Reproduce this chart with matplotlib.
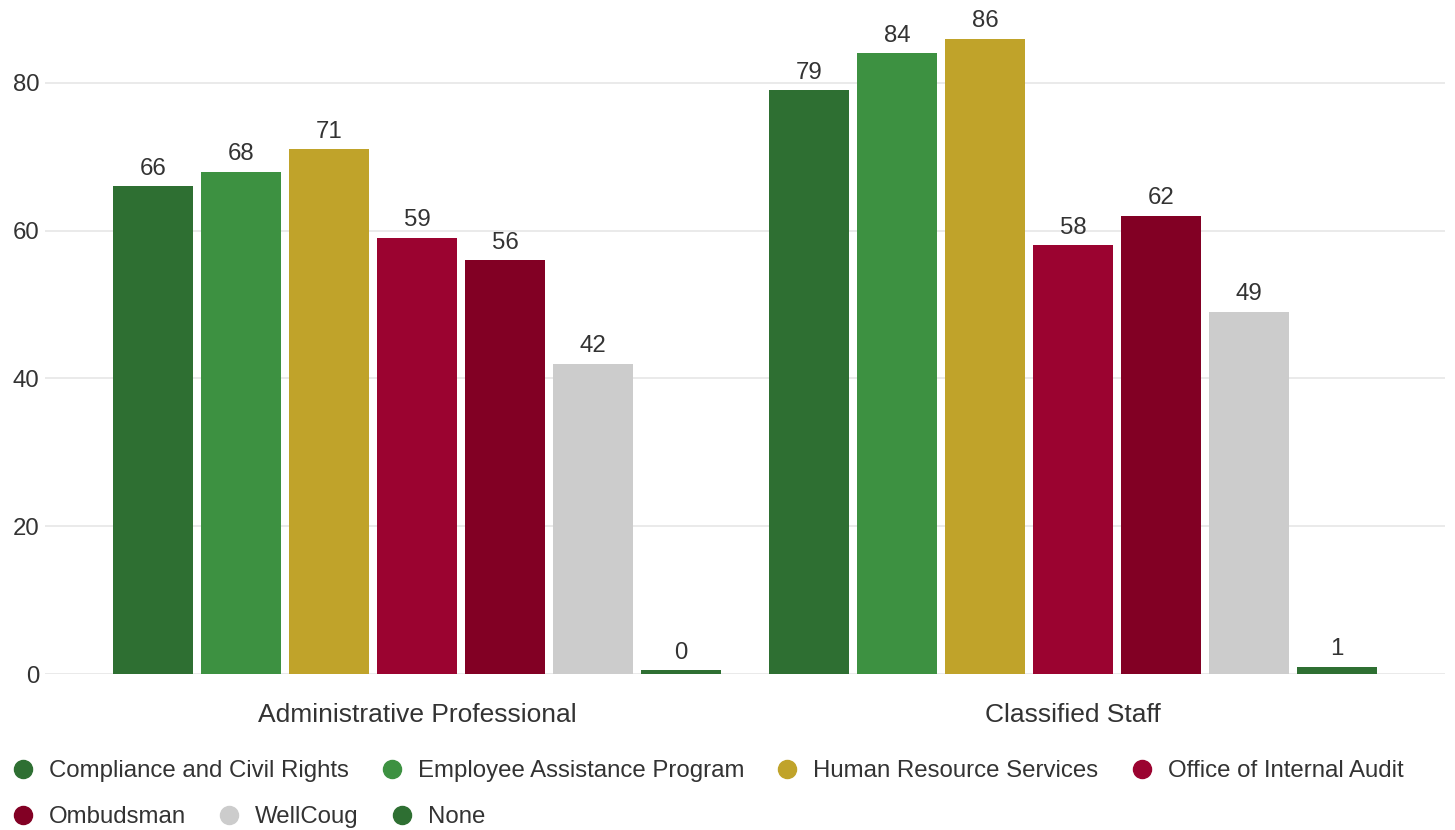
import matplotlib.pyplot as plt
from matplotlib.lines import Line2D
import numpy as np

plt.rcParams['font.family'] = ['Liberation Sans', 'DejaVu Sans']

groups = ["Administrative Professional", "Classified Staff"]
series = ["Compliance and Civil Rights", "Employee Assistance Program",
          "Human Resource Services", "Office of Internal Audit",
          "Ombudsman", "WellCoug", "None"]
values = [
    [66, 79],
    [68, 84],
    [71, 86],
    [59, 58],
    [56, 62],
    [42, 49],
    [0, 1],
]
colors = ["#2e6f32", "#3d9141", "#c0a32a", "#9b0330", "#820024", "#cccccc", "#2e6f32"]

FS = 17.3

fig = plt.figure(figsize=(14.55, 8.3), dpi=100)
ax = fig.add_axes([45 / 1455, 156 / 830, 1400 / 1455, 665 / 830])

x = np.arange(len(groups))
pitch = 88 / 656
width = 80 / 656
for i, (name, vals) in enumerate(zip(series, values)):
    pos = x + (i - 3) * pitch
    heights = [max(v, 0.5) for v in vals]  # keep zero bars visible
    ax.bar(pos, heights, width=width, color=colors[i], zorder=3)
    for p, v, h in zip(pos, vals, heights):
        ax.text(p, h + 0.9, str(v), ha="center", va="bottom", fontsize=FS, color="#333333")

ax.set_xlim(-372 / 656, 1 + 372 / 656)
ax.set_ylim(0, 90)
ax.set_yticks([0, 20, 40, 60, 80])
ax.set_xticks(x)
ax.set_xticklabels(groups, fontsize=19)
ax.grid(axis="y", color="#e6e6e6", linewidth=1.2, zorder=0)
for s in ax.spines.values():
    s.set_visible(False)
ax.tick_params(axis="y", length=0, labelsize=FS, labelcolor="#333333", pad=4)
ax.tick_params(axis="x", length=0, labelcolor="#333333", pad=21)


def handles(idx):
    return [Line2D([], [], marker="o", linestyle="none", markersize=13,
                   markerfacecolor=colors[i], markeredgecolor=colors[i]) for i in idx]


row1 = [0, 1, 2, 3]
row2 = [4, 5, 6]
kw = dict(frameon=False, fontsize=FS, handletextpad=0.68, columnspacing=1.4,
          handlelength=0.8, borderaxespad=0, borderpad=0)
leg1 = fig.legend(handles(row1), [series[i] for i in row1], ncol=4,
                  loc="center left", bbox_to_anchor=(13 / 1455, 1 - 771 / 830), **kw)
for t in leg1.get_texts():
    t.set_color("#333333")
leg2 = fig.legend(handles(row2), [series[i] for i in row2], ncol=3,
                  loc="center left", bbox_to_anchor=(13 / 1455, 1 - 817 / 830), **kw)
for t in leg2.get_texts():
    t.set_color("#333333")

fig.savefig("out.png", dpi=100)
